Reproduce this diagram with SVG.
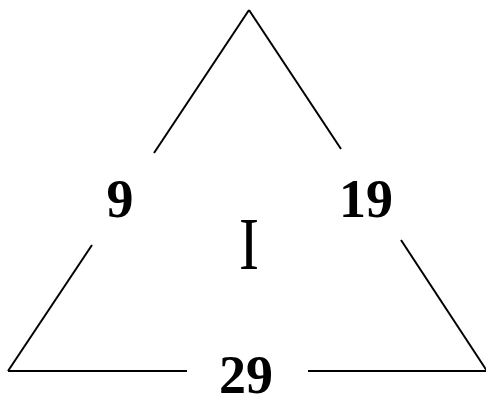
<svg xmlns="http://www.w3.org/2000/svg" width="486" height="394" viewBox="0 0 486 394">
<style>
.e{stroke:#000;stroke-width:2;fill:none}
.n{font-family:"Liberation Serif","Times New Roman",serif;font-weight:bold;font-size:54px;text-anchor:middle;fill:#000}
.c{font-family:"Liberation Serif","Times New Roman",serif;font-size:75px;text-anchor:middle;fill:#000}
</style>
<rect width="486" height="394" fill="#fff"/>
<g id="connectors">
<line class="e" x1="249" y1="10" x2="154" y2="153"/>
<line class="e" x1="92" y1="245" x2="8" y2="371"/>
<line class="e" x1="249" y1="10" x2="341" y2="149"/>
<line class="e" x1="401" y1="240" x2="487" y2="371"/>
<line class="e" x1="8" y1="371" x2="187" y2="371"/>
<line class="e" x1="308" y1="371" x2="487" y2="371"/>
</g>
<g id="n9"><text class="n" x="120" y="217">9</text></g>
<g id="n19"><text class="n" x="366" y="217">19</text></g>
<g id="n29"><text class="n" x="246" y="393">29</text></g>
<g id="center"><text class="c" transform="translate(249,269) scale(0.8,1)" x="0" y="0">I</text></g>
</svg>
